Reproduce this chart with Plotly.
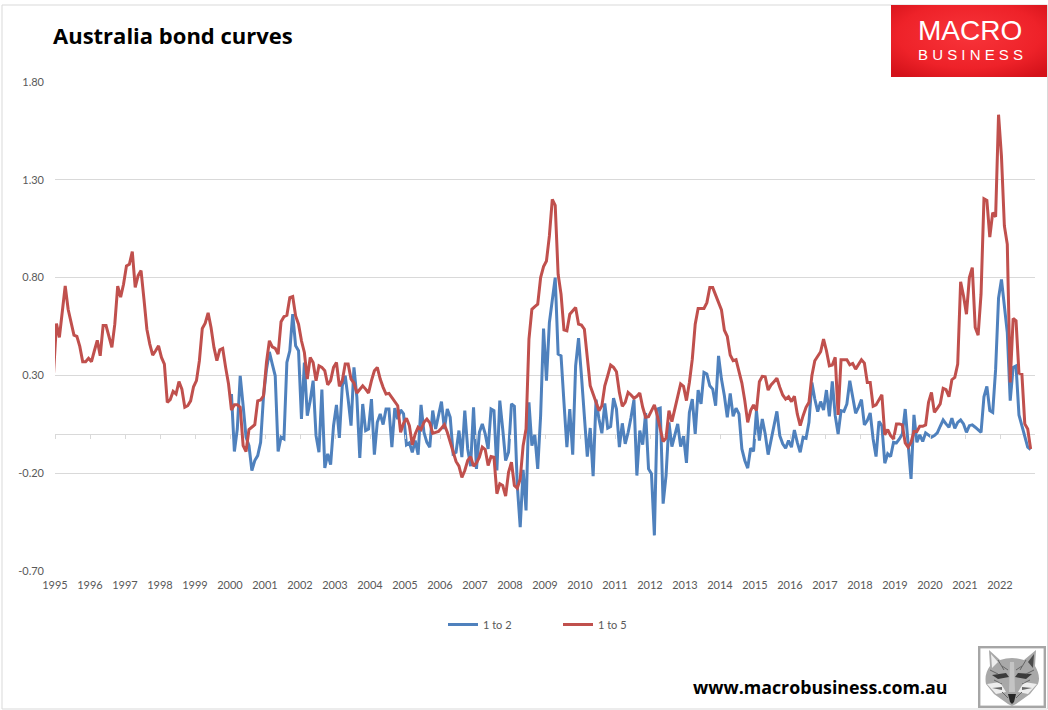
import base64
import plotly.graph_objects as go

# Monthly values; first red value is Dec 1994 (clipped by the axis start)
spread_1_to_5 = [
 0.31,0.565,0.494,0.62,0.757,0.638,0.57,0.506,0.50,0.448,0.37,0.37,0.387,
 0.37,0.426,0.479,0.40,0.555,0.555,0.50,0.443,0.562,0.757,0.70,0.766,
 0.86,0.868,0.933,0.75,0.81,0.836,0.69,0.536,0.46,0.404,0.426,0.451,
 0.392,0.358,0.162,0.176,0.218,0.205,0.268,0.23,0.137,0.145,0.17,0.242,
 0.273,0.375,0.54,0.567,0.62,0.545,0.443,0.375,0.431,0.438,0.341,0.256,
 0.123,0.15,0.15,0.137,-0.059,-0.089,0.023,0.035,0.048,0.17,0.174,0.196,
 0.366,0.477,0.446,0.438,0.409,0.574,0.60,0.608,0.698,0.703,0.604,0.562,
 0.477,0.417,0.281,0.392,0.366,0.273,0.349,0.341,0.324,0.252,0.273,0.341,
 0.366,0.244,0.273,0.358,0.358,0.281,0.261,0.21,0.227,0.247,0.23,0.21,
 0.273,0.324,0.341,0.281,
 0.239,0.205,0.208,0.188,0.167,0.145,0.009,0.055,0.081,0.043,-0.055,0.001,
 0.035,0.023,0.06,0.077,0.057,0.004,0.009,0.014,0.03,0.048,0.009,-0.037,
 -0.084,-0.14,-0.164,-0.222,-0.186,-0.135,-0.115,-0.164,-0.147,-0.118,-0.067,-0.079,
 -0.161,-0.115,-0.118,-0.305,-0.254,-0.263,-0.317,-0.195,-0.144,-0.263,-0.277,-0.229,
 -0.059,0.026,0.485,0.638,0.652,0.664,0.80,0.856,0.885,1.013,1.20,1.169,
 0.817,0.715,0.533,0.528,0.613,0.63,0.647,0.562,0.557,0.536,0.40,0.247,
 0.205,0.162,0.12,0.145,0.247,0.298,0.353,0.341,0.319,0.213,0.142,0.162,
 0.213,0.20,0.183,0.193,0.21,0.137,0.086,0.089,0.12,0.149,0.094,0.03,
 -0.038,-0.021,0.12,0.064,0.128,0.196,0.256,0.244,0.171,0.264,0.383,0.562,
 0.642,0.642,0.642,0.672,0.749,
 0.749,0.712,0.672,0.635,0.531,0.499,0.404,0.375,0.38,0.319,0.261,0.171,
 0.06,0.12,0.149,0.12,0.268,0.295,0.293,0.225,0.251,0.268,0.285,0.239,
 0.20,0.179,0.191,0.166,0.193,0.103,0.043,0.094,0.137,0.162,0.298,0.375,
 0.40,0.421,0.485,0.426,0.349,0.353,0.392,0.098,0.38,0.38,0.38,0.354,
 0.361,0.332,0.358,0.38,0.363,0.264,0.264,0.142,0.149,0.179,0.201,-0.004,
 0.023,-0.008,-0.025,0.052,0.052,0.047,-0.045,-0.067,-0.042,0.013,0.013,0.04,
 0.04,0.047,0.162,0.213,0.111,0.132,0.154,0.234,0.227,0.191,0.278,0.29,
 0.358,0.778,0.706,0.613,0.80,0.851,0.545,0.506,0.715,1.203,1.195,1.007,
 1.132,1.111,1.633,1.42,1.064,0.97,0.264,0.591,0.579,0.312,0.307,0.052,
 0.026,-0.076,
]

# Blue series starts Jan 2000
spread_1_to_2 = [
 0.205,-0.089,0.026,0.298,0.145,-0.016,-0.059,-0.186,-0.135,-0.11,-0.042,0.196,
 0.33,0.42,0.358,0.298,-0.089,-0.016,-0.025,0.366,0.426,0.613,0.451,0.426,
 0.077,0.366,0.094,0.171,0.273,-0.008,-0.093,0.227,-0.173,-0.101,-0.156,0.043,
 0.149,-0.02,0.247,0.298,0.179,0.043,0.341,0.188,-0.122,0.154,0.018,0.026,
 0.179,-0.105,0.06,0.103,
 0.049,0.128,0.128,-0.067,0.133,0.077,0.123,0.103,-0.055,-0.045,-0.093,-0.033,
 -0.105,0.149,0.009,-0.042,-0.067,0.12,0.026,0.094,0.166,0.026,0.128,0.086,
 -0.101,-0.093,0.018,-0.118,0.12,-0.076,-0.164,0.137,-0.178,0.009,0.052,0.001,
 -0.076,0.128,0.12,-0.186,0.171,0.026,-0.135,-0.093,0.154,0.142,-0.263,-0.476,
 -0.183,-0.39,0.162,-0.059,-0.004,-0.178,0.094,0.54,0.273,0.57,0.672,0.80,
 0.409,0.40,0.162,-0.067,0.128,-0.105,0.349,0.49,0.298,0.094,-0.115,0.031,
 -0.215,0.176,0.077,0.004,0.157,0.03,0.038,0.184,0.128,-0.067,0.055,-0.05,
 0.009,0.086,0.176,-0.212,0.018,-0.054,0.108,-0.178,-0.203,-0.518,0.128,0.133,
 -0.356,-0.212,0.06,-0.064,-0.008,0.052,-0.064,-0.011,-0.147,0.111,0.179,0.001,
 0.225,0.154,0.315,0.307,0.247,
 0.23,0.145,0.40,0.281,0.196,0.086,0.208,0.091,0.132,0.103,-0.076,-0.135,
 -0.174,-0.072,-0.088,0.12,-0.033,0.077,0.0,-0.105,-0.028,0.035,0.116,-0.008,
 -0.05,-0.072,-0.033,-0.067,0.021,-0.042,-0.093,-0.016,-0.021,0.06,0.264,0.179,
 0.115,0.166,0.123,0.225,0.091,0.269,0.094,0.0,0.12,0.116,0.154,0.273,
 0.188,0.106,0.137,0.176,0.047,0.069,0.108,-0.025,-0.115,0.065,0.043,-0.149,
 -0.101,-0.115,-0.042,-0.045,-0.025,0.0,0.128,-0.042,-0.229,0.098,-0.042,-0.004,
 -0.038,0.006,-0.004,-0.016,-0.008,0.006,0.04,0.072,0.052,0.035,0.081,0.03,
 0.06,0.072,0.052,0.009,0.043,0.047,0.035,0.021,0.009,0.191,0.244,0.12,
 0.111,0.332,0.695,0.791,0.647,0.519,0.171,0.341,0.349,0.098,0.043,-0.013,
 -0.067,-0.079,
]

year_labels = [str(y) for y in range(1995, 2023)]
y_ticks = [1.80, 1.30, 0.80, 0.30, -0.20, -0.70]
y_labels = ["1.80", "1.30", "0.80", "0.30", "-0.20", "-0.70"]

# position in months from the Jan 1995 tick; points sit mid-month
last = 335
red_x = [k - 0.5 for k in range(last + 1 - len(spread_1_to_5), last + 1)]
blue_x = [k - 0.5 for k in range(last + 1 - len(spread_1_to_2), last + 1)]
year_ticks = [12 * k for k in range(len(year_labels))]

W, H = 1048, 710
L, R, T, B = 55, 1035, 82, 571
def px(x): return (x - L) / (R - L)
def py(y): return (B - y) / (B - T)

fig = go.Figure()
fig.add_trace(go.Scatter(x=blue_x, y=spread_1_to_2, name="1 to 2", mode="lines",
                         line=dict(color="#4f81bd", width=3)))
fig.add_trace(go.Scatter(x=red_x, y=spread_1_to_5, name="1 to 5", mode="lines",
                         line=dict(color="#c0504d", width=3)))
# carrier for the tick marks on the zero line
fig.add_trace(go.Scatter(x=[0, 336], y=[0, 0], xaxis="x2", mode="lines", showlegend=False,
                         hoverinfo="skip", line=dict(color="rgba(0,0,0,0)", width=0)))

red_svg = ('<svg xmlns="http://www.w3.org/2000/svg" width="156" height="72">'
           '<defs><radialGradient id="g" cx="50%" cy="42%" r="70%">'
           '<stop offset="0" stop-color="#f8343a"/><stop offset="0.65" stop-color="#ee2229"/>'
           '<stop offset="1" stop-color="#d4121a"/></radialGradient></defs>'
           '<rect width="156" height="72" fill="url(#g)"/></svg>')
fox_svg = ('<svg xmlns="http://www.w3.org/2000/svg" width="68" height="62" viewBox="0 0 68 62">'
           '<rect x="1.2" y="1.2" width="65.6" height="59.6" fill="#fff" stroke="#a6a6a6" stroke-width="2.4"/>'
           '<path d="M11 4 L22 14 Q34 10 46 14 L58 4 L57 20 Q63 30 60 38 L52 48 L38 58 L34 60 L30 58 L16 48 L8 38 Q6 28 12 20 Z" fill="#a8a8a8"/>'
           '<path d="M13 8 L20 16 L14 22 Z" fill="#ededed"/><path d="M56 8 L50 16 L55 22 Z" fill="#4a4a4a"/>'
           '<path d="M14 29 L28 27 L31 31 L20 33 Z M54 28 L40 27 L37 31 L48 33 Z" fill="#3a3a3a"/>'
           '<path d="M32 16 L36 16 L37 46 L31 46 Z" fill="#c4c4c4"/>'
           '<path d="M9 38 L22 36 L28 46 L18 48 Z M59 38 L46 36 L40 46 L50 48 Z" fill="#ededed"/>'
           '<path d="M14 42 L24 41 L24 44 Z M54 42 L44 41 L44 44 Z" fill="#666"/>'
           '<path d="M30 48 L38 48 L36 56 L34 58 L32 56 Z" fill="#262626"/>'
           '<path d="M20 14 L26 24 M48 14 L42 24 M24 20 L30 24 M44 20 L38 24 M12 24 L20 28 M56 24 L48 28 M16 34 L24 38 M52 34 L44 38 M24 46 L30 52 M44 46 L38 52" stroke="#666" stroke-width="1"/>'
           '</svg>')
def uri(s): return "data:image/svg+xml;base64," + base64.b64encode(s.encode()).decode()

fig.update_layout(
    width=W, height=H, autosize=False,
    margin=dict(l=L, r=W - R, t=T, b=H - B, pad=0),
    paper_bgcolor="white", plot_bgcolor="white",
    font=dict(family="Lato", size=11, color="#595959"),
    xaxis=dict(range=[0, 336], tickmode="array", tickvals=year_ticks, ticktext=year_labels,
               showgrid=False, zeroline=False, showline=False, ticks="", ticklabelstandoff=6,
               tickangle=0, tickfont=dict(family="Lato", size=11, color="#595959")),
    xaxis2=dict(range=[0, 336], overlaying="x", anchor="free", position=py(434.4), side="bottom",
                tickmode="array", tickvals=year_ticks, showticklabels=False, showgrid=False,
                zeroline=False, showline=False, ticks="outside", ticklen=4, tickwidth=1,
                tickcolor="#d9d9d9"),
    yaxis=dict(range=[-0.70, 1.80], tickmode="array", tickvals=y_ticks, ticktext=y_labels,
               showgrid=True, gridcolor="#d9d9d9", gridwidth=1, zeroline=True,
               zerolinecolor="#d9d9d9", zerolinewidth=1, showline=False, ticks="",
               ticklabelstandoff=10, tickfont=dict(family="Lato", size=11, color="#595959")),
    legend=dict(orientation="h", x=px(443), y=py(610), xanchor="left", yanchor="top",
                entrywidth=70, entrywidthmode="pixels", itemwidth=30, tracegroupgap=0,
                font=dict(family="Lato", size=11, color="#595959"), bgcolor="rgba(0,0,0,0)"),
    shapes=[
        dict(type="rect", xref="paper", yref="paper", x0=px(2), x1=px(1047.5), y0=py(709), y1=py(5),
             line=dict(color="#d9d9d9", width=1), fillcolor="rgba(0,0,0,0)", layer="below"),
    ],
    images=[
        dict(source=uri(red_svg), xref="paper", yref="paper", x=px(891), y=py(5), sizex=156/(R-L),
             sizey=72/(B-T), xanchor="left", yanchor="top", sizing="stretch", layer="above"),
        dict(source=uri(fox_svg), xref="paper", yref="paper", x=px(978), y=py(646), sizex=68/(R-L),
             sizey=62/(B-T), xanchor="left", yanchor="top", sizing="stretch", layer="above"),
    ],
    annotations=[
        dict(text="<b>Australia bond curves</b>", xref="paper", yref="paper", x=px(51), y=py(35),
             xanchor="left", yanchor="middle", showarrow=False,
             font=dict(family="Open Sans", size=22, color="#000000")),
        dict(text="MACRO", xref="paper", yref="paper", x=px(969.5), y=py(31),
             xanchor="center", yanchor="middle", showarrow=False,
             font=dict(family="Liberation Sans", size=28, color="#ffffff")),
        dict(text="B U S I N E S S", xref="paper", yref="paper", x=px(970), y=py(54),
             xanchor="center", yanchor="middle", showarrow=False,
             font=dict(family="Liberation Sans", size=15, color="#ffffff")),
        dict(text="<b>www.macrobusiness.com.au</b>", xref="paper", yref="paper", x=px(691), y=py(687),
             xanchor="left", yanchor="middle", showarrow=False,
             font=dict(family="Open Sans", size=17.8, color="#000000")),
    ],
)

fig.write_html("out.html", config={"displayModeBar": False},
               post_script="document.body.style.margin='0';document.body.style.overflow='hidden';")
